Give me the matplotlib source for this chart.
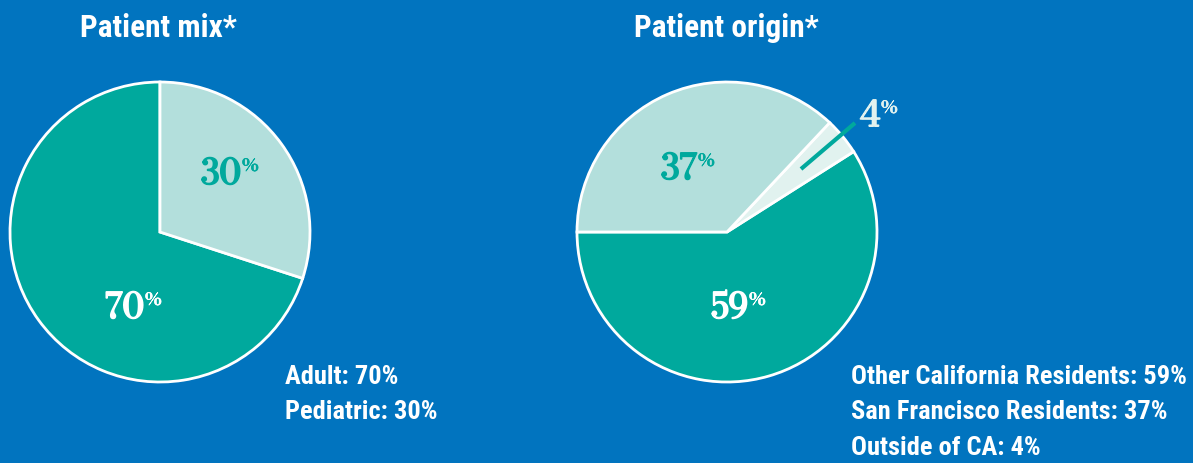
import matplotlib
matplotlib.use("Agg")
import matplotlib.pyplot as plt
import matplotlib.patheffects as pe

W, H = 1193, 464
BG = "#0174BF"
DARK = "#00A99D"
LIGHT = "#B3DFDC"
LIGHTEST = "#E1F2EF"

mix_labels = ["Adult", "Pediatric"]
mix_values = [70, 30]
origin_labels = ["Other California Residents", "San Francisco Residents", "Outside of CA"]
origin_legend_values = [59, 37, 4]
origin_values = [59, 4, 37]  # drawn order: other CA, outside CA, SF

SANS = ["Roboto Condensed", "DejaVu Sans"]
SERIF = ["Bodoni Moda", "Libre Bodoni", "DejaVu Serif"]

fig = plt.figure(figsize=(W / 100, H / 100), dpi=100, facecolor=BG)
ax = fig.add_axes([0, 0, 1, 1])

def Y(y):
    return H - y

R = 150
ax.pie(mix_values, colors=[DARK, LIGHT], startangle=90, counterclock=True,
       center=(160, Y(233)), radius=R, frame=True,
       wedgeprops=dict(edgecolor="white", linewidth=2))
ax.pie(origin_values, colors=[DARK, LIGHTEST, LIGHT], startangle=180, counterclock=True,
       center=(727, Y(233)), radius=R, frame=True,
       wedgeprops=dict(edgecolor="white", linewidth=2))
ax.set_xlim(0, W)
ax.set_ylim(0, H)
ax.set_aspect("equal")
ax.axis("off")

def pct(x, y, val, color):
    ax.text(x, Y(y), str(val), ha="right", va="baseline", fontsize=25,
            fontweight="bold", family=SERIF, color=color,
            path_effects=[pe.withStroke(linewidth=1.3, foreground=color)])
    ax.text(x + 1, Y(y - 13), "%", ha="left", va="baseline", fontsize=12,
            fontweight="bold", family=SERIF, color=color,
            path_effects=[pe.withStroke(linewidth=0.5, foreground=color)])

pct(241, 185, mix_values[1], DARK)
pct(144, 319, mix_values[0], "white")
pct(697, 180, origin_values[2], DARK)
pct(748, 319, origin_values[0], "white")
pct(880, 127, origin_values[1], LIGHTEST)

ax.plot([801, 855], [Y(170), Y(124)], color=DARK, lw=3, solid_capstyle="butt")

ax.text(158, Y(28), "Patient mix*", ha="center", va="center", fontsize=22.5,
        fontweight="bold", family=SANS, color="white")
ax.text(726, Y(28), "Patient origin*", ha="center", va="center", fontsize=22.5,
        fontweight="bold", family=SANS, color="white")

for i, (lab, v) in enumerate(zip(mix_labels, mix_values)):
    ax.text(285, Y(377 + 35.5 * i), f"{lab}: {v}%", ha="left", va="center",
            fontsize=19, fontweight="bold", family=SANS, color="white")
for i, (lab, v) in enumerate(zip(origin_labels, origin_legend_values)):
    ax.text(851, Y(377 + 35.5 * i), f"{lab}: {v}%", ha="left", va="center",
            fontsize=19, fontweight="bold", family=SANS, color="white")

fig.savefig("out.png", dpi=100, facecolor=BG)
